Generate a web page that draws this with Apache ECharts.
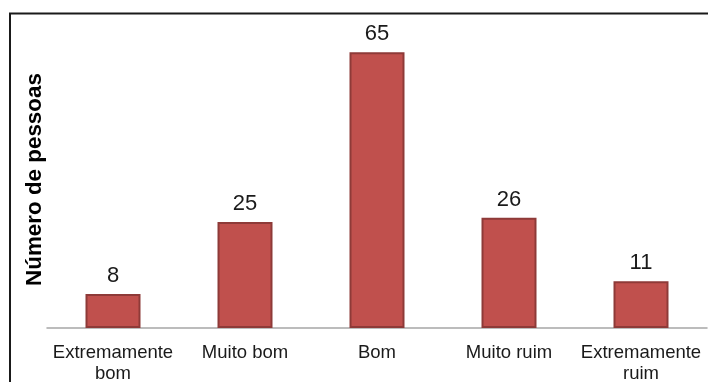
<!DOCTYPE html>
<html>
<head>
<meta charset="utf-8">
<script src="https://cdn.jsdelivr.net/npm/echarts@6/dist/echarts.min.js"></script>
<style>
  html, body { margin: 0; padding: 0; background: #fff; }
  #chart { width: 708px; height: 382px; }
</style>
</head>
<body>
<div id="chart"></div>
<script>
// Avaliação: número de pessoas por categoria
const categories = ['Extremamente\nbom', 'Muito bom', 'Bom', 'Muito ruim', 'Extremamente\nruim'];
const counts = [8, 25, 65, 26, 11];
const yTitle = 'Número de pessoas';

const chart = echarts.init(document.getElementById('chart'));
chart.setOption({
  animation: false,
  backgroundColor: '#ffffff',
  grid: { left: 47, right: 1, top: 31, bottom: 54, outerBoundsMode: 'none', containLabel: false },
  graphic: [
    // frame lines on top and left
    { type: 'line', shape: { x1: 9, y1: 13.5, x2: 708, y2: 13.5 }, style: { stroke: '#1a1a1a', lineWidth: 2 } },
    { type: 'line', shape: { x1: 10, y1: 13, x2: 10, y2: 382 }, style: { stroke: '#1a1a1a', lineWidth: 2 } }
  ],
  xAxis: {
    type: 'category',
    data: categories,
    axisLine: { show: true, lineStyle: { color: '#a6a6a6', width: 1.5 } },
    axisTick: { show: false },
    axisLabel: {
      color: '#1a1a1a',
      fontFamily: 'Liberation Sans, Arial, sans-serif',
      fontSize: 18.5,
      lineHeight: 21,
      margin: 14,
      interval: 0
    }
  },
  yAxis: {
    type: 'value',
    min: 0,
    max: 70,
    name: yTitle,
    nameLocation: 'middle',
    nameGap: 1,
    nameTextStyle: {
      color: '#000',
      fontFamily: 'Liberation Sans, Arial, sans-serif',
      fontSize: 22.4,
      fontWeight: 'bold'
    },
    axisLine: { show: false },
    axisTick: { show: false },
    axisLabel: { show: false },
    splitLine: { show: false }
  },
  series: [{
    type: 'bar',
    data: counts,
    barWidth: 55,
    itemStyle: {
      color: '#c0504d',
      borderColor: '#8e3a38',
      borderWidth: 2
    },
    label: {
      show: true,
      position: 'top',
      distance: 7,
      color: '#1a1a1a',
      fontFamily: 'Liberation Sans, Arial, sans-serif',
      fontSize: 22
    }
  }]
});
</script>
</body>
</html>
